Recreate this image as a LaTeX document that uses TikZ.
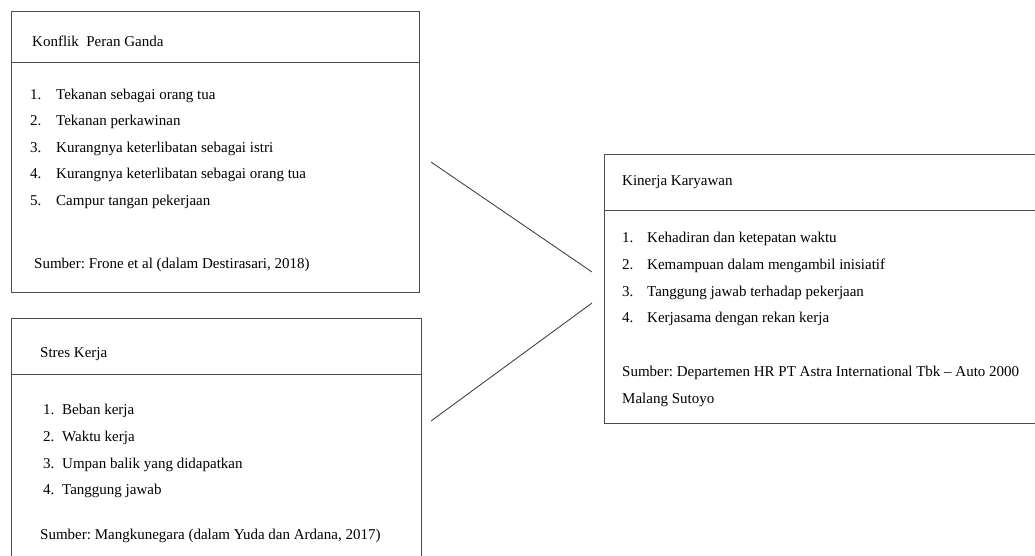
\documentclass[tikz,border=0pt]{standalone}
\usepackage{fontspec}
\setmainfont{Liberation Serif}
\usepackage{tikz}
\usetikzlibrary{positioning}
\frenchspacing

\begin{document}
\begin{tikzpicture}[x=1pt, y=-1pt]
    \tikzstyle{box}=[rectangle, draw=black!70, line width=1pt, inner sep=0pt]
    \tikzstyle{txt}=[anchor=base west, inner sep=0pt, font=\fontsize{15}{18}\selectfont]
    \tikzstyle{connect}=[draw=black!80, line width=0.8pt]
    \useasboundingbox (0,0) rectangle (1035,555);
    \clip (0,0) rectangle (1035,555);

      % Konflik Peran Ganda
      \node[box, minimum width=408pt, minimum height=281pt] (konflik) at (215,151.5) { };
      \draw[draw=black!70, line width=1pt] (konflik.west |- 0,62) -- (konflik.east |- 0,62);
      \node[txt] (konfliktitle) at (32,46) {Konflik\ \ Peran Ganda};
      \node[txt] (k1) at (30,99) {\makebox[26pt][l]{1.}Tekanan sebagai orang tua};
      \node[txt] (k2) at (30,125.5) {\makebox[26pt][l]{2.}Tekanan perkawinan};
      \node[txt] (k3) at (30,152) {\makebox[26pt][l]{3.}Kurangnya keterlibatan sebagai istri};
      \node[txt] (k4) at (30,178.5) {\makebox[26pt][l]{4.}Kurangnya keterlibatan sebagai orang tua};
      \node[txt] (k5) at (30,205) {\makebox[26pt][l]{5.}Campur tangan pekerjaan};
      \node[txt] (ksumber) at (34,268) {Sumber: Frone et al (dalam Destirasari, 2018)};

      % Stres Kerja
      \node[box, minimum width=410pt, minimum height=282pt] (stres) at (216,459) { };
      \draw[draw=black!70, line width=1pt] (stres.west |- 0,374) -- (stres.east |- 0,374);
      \node[txt] (strestitle) at (40,357) {Stres Kerja};
      \node[txt] (s1) at (43,414) {\makebox[19pt][l]{1.}Beban kerja};
      \node[txt] (s2) at (43,441) {\makebox[19pt][l]{2.}Waktu kerja};
      \node[txt] (s3) at (43,468) {\makebox[19pt][l]{3.}Umpan balik yang didapatkan};
      \node[txt] (s4) at (43,494.5) {\makebox[19pt][l]{4.}Tanggung jawab};
      \node[txt] (ssumber) at (40,539) {Sumber: Mangkunegara (dalam Yuda dan Ardana, 2017)};

      % Kinerja Karyawan
      \node[box, minimum width=460pt, minimum height=269pt] (kinerja) at (834,288.5) { };
      \draw[draw=black!70, line width=1pt] (kinerja.west |- 0,210) -- (kinerja.east |- 0,210);
      \node[txt] (kinerjatitle) at (622,185) {Kinerja Karyawan};
      \node[txt] (r1) at (622,242.5) {\makebox[25pt][l]{1.}Kehadiran dan ketepatan waktu};
      \node[txt] (r2) at (622,269) {\makebox[25pt][l]{2.}Kemampuan dalam mengambil inisiatif};
      \node[txt] (r3) at (622,296) {\makebox[25pt][l]{3.}Tanggung jawab terhadap pekerjaan};
      \node[txt] (r4) at (622,322.5) {\makebox[25pt][l]{4.}Kerjasama dengan rekan kerja};
      \node[txt] (rsumber) at (622,376) {Sumber: Departemen HR PT Astra International Tbk -- Auto 2000};
      \node[txt] (rsumber2) at (622,403) {Malang Sutoyo};

      \coordinate (a1) at (431,162);
      \coordinate (b1) at (592,272);
      \coordinate (a2) at (431,421);
      \coordinate (b2) at (592,303);
      \path (a1) edge [connect] (b1);
      \path (a2) edge [connect] (b2);
\end{tikzpicture}
\end{document}
